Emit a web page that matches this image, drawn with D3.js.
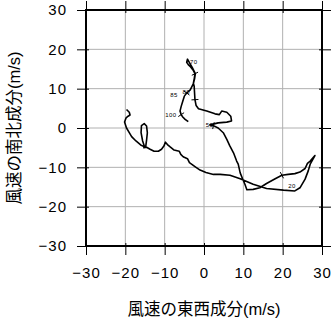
<!DOCTYPE html>
<html>
<head>
<meta charset="utf-8">
<script src="https://cdn.jsdelivr.net/npm/d3@7"></script>
<style>
  body { margin: 0; background: #fff; }
  svg { display: block; }
</style>
</head>
<body>
<div id="chart"></div>
<script>
// --- data ---
const axisTicks = [-30, -20, -10, 0, 10, 20, 30];
const gridTicks = [-20, -10, 0, 10, 20];

// hodograph: east-west (u) and north-south (v) wind components, m/s
const windU = [-19.7, -19.0, -18.8, -19.3, -19.8, -20.2, -19.7, -19.0, -18.4, -17.3, -16.1, -15.1,
  -15.6, -16.0, -15.9, -15.2, -14.6, -14.4, -14.6, -14.8, -15.3, -14.6,
  -13.7, -12.7, -11.6, -10.8, -10.2, -9.8, -9.3, -8.6, -7.6, -6.3, -5.9, -5.3, -4.2, -3.7,
  -2.3, -1.0, 0.5, 2.4, 4.1, 6.6, 9.2, 12.5, 15.9, 20.2, 23.1, 24.4, 25.7, 26.5, 27.0, 28.2,
  27.0, 26.3, 25.7, 24.4, 23.1, 21.4, 19.8, 18.1, 15.9, 14.2, 12.5, 10.9,
  10.4, 9.8, 9.2, 8.7, 8.3, 7.5, 6.5, 5.8, 4.9, 3.6, 2.4, 1.5,
  3.6, 5.8, 7.0, 6.8, 5.8, 4.5, 3.9, 2.8, 0.7, -1.4, -2.0, -2.3, -2.4, -2.5, -2.7, -2.45, -2.3,
  -2.7, -3.4, -4.0, -4.4, -4.2, -3.7, -3.0, -2.2, -2.4, -2.7,
  -3.5, -4.4, -5.0, -5.4, -5.8, -6.1, -5.8, -5.4, -4.8, -4.0];
const windV = [4.7, 4.0, 3.3, 3.0, 2.6, 1.5, 0.0, -1.2, -2.2, -3.3, -4.3, -4.8,
  -3.3, -1.2, 0.6, 1.1, 0.5, -1.2, -3.1, -4.6, -5.0, -4.9,
  -5.4, -5.9, -5.9, -5.4, -4.6, -3.6, -4.2, -4.8, -5.6, -5.9, -6.7, -7.3, -7.8, -8.8,
  -9.8, -10.7, -11.3, -11.8, -11.8, -12.0, -12.9, -14.3, -15.4, -15.8, -16.0, -15.2, -13.0, -10.9, -9.2, -7.0,
  -8.4, -9.0, -10.3, -11.2, -11.6, -11.8, -12.0, -12.9, -14.1, -15.2, -15.6, -15.7,
  -14.3, -12.9, -11.4, -9.2, -8.4, -6.3, -4.4, -2.9, -1.2, 0.0, 0.6, 0.8,
  1.3, 1.5, 1.8, 3.0, 4.0, 4.3, 3.4, 3.6, 4.3, 4.9, 5.7, 7.2, 8.9, 10.6, 11.4, 12.7, 13.8,
  14.6, 15.5, 16.1, 16.7, 17.5, 16.6, 15.4, 13.8, 12.5, 11.3,
  9.7, 8.9, 8.1, 6.8, 5.5, 4.3, 3.4, 2.8, 2.2, 1.6];

// height labels along the curve
const labelText = ["20", "50", "70", "80", "85", "100"];
const labelU = [22.4, 1.4, -2.6, -4.5, -7.6, -8.4];
const labelV = [-14.6, 0.8, 16.7, 9.1, 8.5, 3.4];

// small cross marks on the curve (indices into windU/windV)
const markIdx = [58, 74, 92, 87, 104, 109];

document.addEventListener("DOMContentLoaded", () => {
  const width = 332, height = 319;
  const plot = { left: 86, right: 322, top: 10, bottom: 246 };

  const x = d3.scaleLinear().domain([-30, 30]).range([plot.left, plot.right]);
  const y = d3.scaleLinear().domain([-30, 30]).range([plot.bottom, plot.top]);

  const svg = d3.select("#chart").append("svg")
    .attr("width", width)
    .attr("height", height);

  // --- grid ---
  const grid = svg.append("g").attr("stroke", "#b0b0b0").attr("stroke-width", 1);
  grid.selectAll(".gx").data(gridTicks).enter().append("line")
    .attr("x1", d => x(d)).attr("x2", d => x(d))
    .attr("y1", plot.top).attr("y2", plot.bottom);
  grid.selectAll(".gy").data(gridTicks).enter().append("line")
    .attr("y1", d => y(d)).attr("y2", d => y(d))
    .attr("x1", plot.left).attr("x2", plot.right);

  // --- axes (ticks on all four sides, labels left and bottom) ---
  const fmtAxis = g => {
    g.select(".domain").remove();
    g.selectAll("line").attr("stroke", "#000").attr("stroke-width", 1);
    g.selectAll("text")
      .style("font-family", "'Liberation Sans', Arial, sans-serif")
      .style("font-size", "15px")
      .style("letter-spacing", "1px")
      .attr("fill", "#000");
  };

  svg.append("g")
    .attr("transform", `translate(${plot.left},0)`)
    .call(d3.axisLeft(y).tickValues(axisTicks).tickSize(9).tickPadding(10))
    .call(fmtAxis)
    .selectAll("line").attr("x2", 3).attr("x1", -9);

  svg.append("g")
    .attr("transform", `translate(0,${plot.bottom})`)
    .call(d3.axisBottom(x).tickValues(axisTicks).tickSize(9).tickPadding(12))
    .call(fmtAxis)
    .selectAll("line").attr("y1", -3);

  svg.append("g")
    .attr("transform", `translate(0,${plot.top})`)
    .call(d3.axisTop(x).tickValues(axisTicks).tickSize(9).tickFormat(""))
    .call(fmtAxis)
    .selectAll("line").attr("y1", 3);

  svg.append("g")
    .attr("transform", `translate(${plot.right},0)`)
    .call(d3.axisRight(y).tickValues(axisTicks).tickSize(9).tickFormat(""))
    .call(fmtAxis)
    .selectAll("line").attr("x1", -3);

  // --- hodograph line ---
  const pts = windU.map((u, i) => [u, windV[i]]);
  const line = d3.line().x(d => x(d[0])).y(d => y(d[1]));

  svg.append("path")
    .datum(pts)
    .attr("fill", "none")
    .attr("stroke", "#000")
    .attr("stroke-width", 1.6)
    .attr("stroke-linejoin", "round")
    .attr("d", line);

  // small perpendicular marks
  markIdx.forEach(i => {
    const a = pts[i], b = pts[Math.min(i + 1, pts.length - 1)];
    const dx = x(b[0]) - x(a[0]), dy = y(b[1]) - y(a[1]);
    const len = Math.hypot(dx, dy) || 1;
    const nx = -dy / len * 3.5, ny = dx / len * 3.5;
    svg.append("line")
      .attr("x1", x(a[0]) - nx).attr("y1", y(a[1]) - ny)
      .attr("x2", x(a[0]) + nx).attr("y2", y(a[1]) + ny)
      .attr("stroke", "#000").attr("stroke-width", 1);
  });

  // height labels
  svg.selectAll(".lbl").data(labelText).enter().append("text")
    .attr("x", (d, i) => x(labelU[i]))
    .attr("y", (d, i) => y(labelV[i]))
    .attr("dy", "0.35em")
    .attr("text-anchor", "middle")
    .style("font-family", "'Liberation Sans', Arial, sans-serif")
    .style("font-size", "6px")
    .style("letter-spacing", "0.5px")
    .text(d => d);

  // --- frame ---
  svg.append("rect")
    .attr("x", plot.left).attr("y", plot.top)
    .attr("width", plot.right - plot.left)
    .attr("height", plot.bottom - plot.top)
    .attr("fill", "none")
    .attr("stroke", "#000")
    .attr("stroke-width", 2);

  // --- axis titles ---
  const xt = svg.append("text")
    .attr("x", (plot.left + plot.right) / 2)
    .attr("y", 315)
    .attr("text-anchor", "middle")
    .style("font-size", "16.5px");
  xt.append("tspan").style("font-family", "'Noto Sans CJK JP', sans-serif").text("風速の東西成分");
  xt.append("tspan").style("font-family", "'Liberation Sans', Arial, sans-serif").text("(m/s)");

  const yt = svg.append("text")
    .attr("transform", `translate(20,${(plot.top + plot.bottom) / 2}) rotate(-90)`)
    .attr("text-anchor", "middle")
    .style("font-size", "16.5px");
  yt.append("tspan").style("font-family", "'Noto Sans CJK JP', sans-serif").text("風速の南北成分");
  yt.append("tspan").style("font-family", "'Liberation Sans', Arial, sans-serif").text("(m/s)");
});
</script>
</body>
</html>
